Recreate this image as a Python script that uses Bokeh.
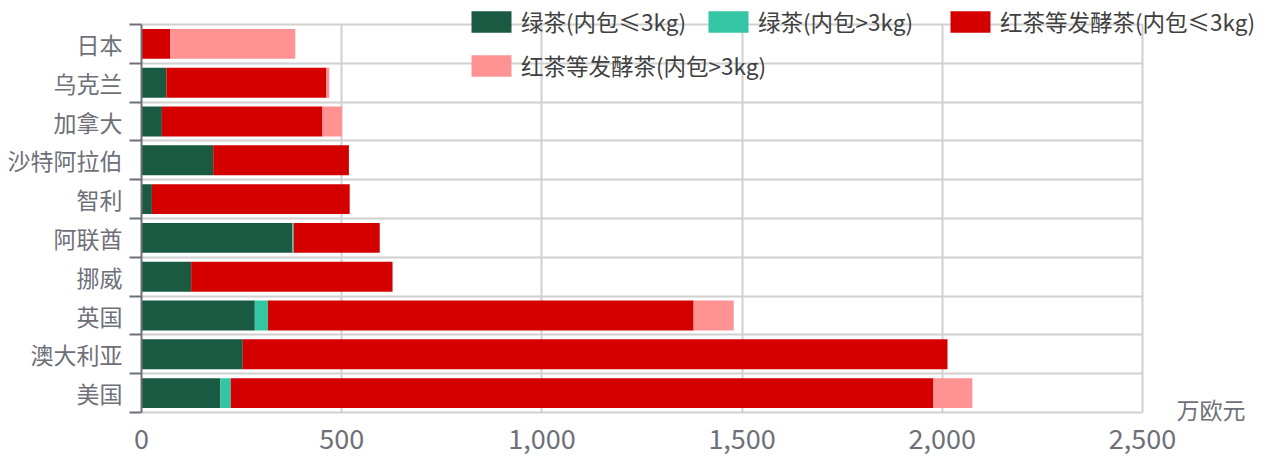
from bokeh.plotting import figure
from bokeh.models import (Range1d, FixedTicker, NumeralTickFormatter, ColumnDataSource,
                          Legend, LegendItem, Label)
from bokeh.embed import file_html
from bokeh.resources import INLINE

# Data (bottom to top)
countries = ["美国", "澳大利亚", "英国", "挪威", "阿联酋", "智利", "沙特阿拉伯", "加拿大", "乌克兰", "日本"]
green_small = [197, 253, 283, 124, 377, 26, 179, 51, 62, 0]
green_large = [26, 0, 33, 0, 3, 0, 0, 0, 0, 0]
black_small = [1755, 1760, 1063, 503, 215, 494, 339, 401, 400, 72]
black_large = [97, 0, 100, 0, 0, 0, 0, 49, 7, 312]
series_names = ["绿茶(内包≤3kg)", "绿茶(内包>3kg)", "红茶等发酵茶(内包≤3kg)", "红茶等发酵茶(内包>3kg)"]
colors = ["#1a5a42", "#34c6a4", "#d40000", "#ff9393"]
x_ticks = [0, 500, 1000, 1500, 2000, 2500]
x_max = 2500
unit = "万欧元"

FONT = "Noto Sans CJK SC"
GRAY = "#6e7079"

# Layout (pixels)
FRAME_LEFT = 141
FRAME_W = 1127          # frame extends to the right edge
PLOT_W = 1001           # pixels used by 0..x_max
FRAME_H = 422           # frame extends to the top edge
TOP_PAD = 24            # pixels above the last category
BAND = 38.8             # pixels per category

n = len(countries)
keys = ["g1", "g2", "b1", "b2"]
centers = [i + 0.5 for i in range(n)]
source = ColumnDataSource(dict(y=centers, g1=green_small, g2=green_large, b1=black_small, b2=black_large))

y_top = n + TOP_PAD / BAND
y_bot = n - FRAME_H / BAND + TOP_PAD / BAND
p = figure(frame_width=FRAME_W, frame_height=FRAME_H, output_backend="svg", toolbar_location=None,
           x_range=Range1d(0, x_max * FRAME_W / PLOT_W), y_range=Range1d(y_bot, y_top),
           min_border_left=FRAME_LEFT, min_border_right=0, min_border_top=0, min_border_bottom=34)

renderers = p.hbar_stack(keys, y="y", height=0.77, color=colors, source=source, line_width=0)

# X axis
p.xaxis.ticker = FixedTicker(ticks=x_ticks)
p.xaxis.formatter = NumeralTickFormatter(format="0,0")
p.xaxis.major_tick_line_color = None
p.xaxis.minor_tick_line_color = None
p.xaxis.axis_line_color = None
p.xaxis.major_label_text_font = FONT
p.xaxis.major_label_text_font_size = "27px"
p.xaxis.major_label_text_color = GRAY
p.xaxis.major_label_standoff = 0

# Y axis: labels at centers, ticks at boundaries
boundaries = list(range(n + 1))
p.yaxis.ticker = FixedTicker(ticks=centers, minor_ticks=boundaries)
p.yaxis.bounds = (0, n)
p.yaxis.major_label_overrides = {c: name for c, name in zip(centers, countries)}
p.yaxis.major_tick_line_color = None
p.yaxis.minor_tick_out = 12
p.yaxis.minor_tick_in = 0
p.yaxis.minor_tick_line_color = GRAY
p.yaxis.minor_tick_line_width = 2
p.yaxis.axis_line_color = GRAY
p.yaxis.axis_line_width = 2
p.yaxis.major_label_text_font = FONT
p.yaxis.major_label_text_font_size = "23px"
p.yaxis.major_label_text_color = GRAY
p.yaxis.major_label_standoff = 7

# Grids
p.xgrid.grid_line_color = "#d0d0d0"
p.xgrid.grid_line_width = 2
p.xgrid.cross_bounds = (0, n)
p.ygrid.grid_line_color = None
p.ygrid.minor_grid_line_color = "#d0d0d0"
p.ygrid.minor_grid_line_width = 2
p.ygrid.cross_bounds = (0, x_max)
p.outline_line_color = None
p.background_fill_color = "white"

# Legends, one per item for exact placement (bottom-left corner, frame coords)
positions = [(325, 385), (562, 385), (804, 385), (325, 341)]
for r, name, pos in zip(renderers, series_names, positions):
    lg = Legend(items=[LegendItem(label=name, renderers=[r])], location=pos,
                orientation="horizontal", padding=0, margin=0, spacing=0,
                glyph_width=50, glyph_height=27, label_height=27, label_standoff=5,
                label_text_font=FONT, label_text_font_size="22.5px", label_text_color="#404040",
                background_fill_alpha=0, border_line_color=None)
    p.add_layout(lg, "center")

p.add_layout(Label(x=x_max, y=0, x_offset=34, y_offset=4, text=unit, text_font=FONT,
                   text_font_size="23px", text_color=GRAY, text_baseline="middle"))

open("out.html", "w").write(file_html(p, INLINE))
